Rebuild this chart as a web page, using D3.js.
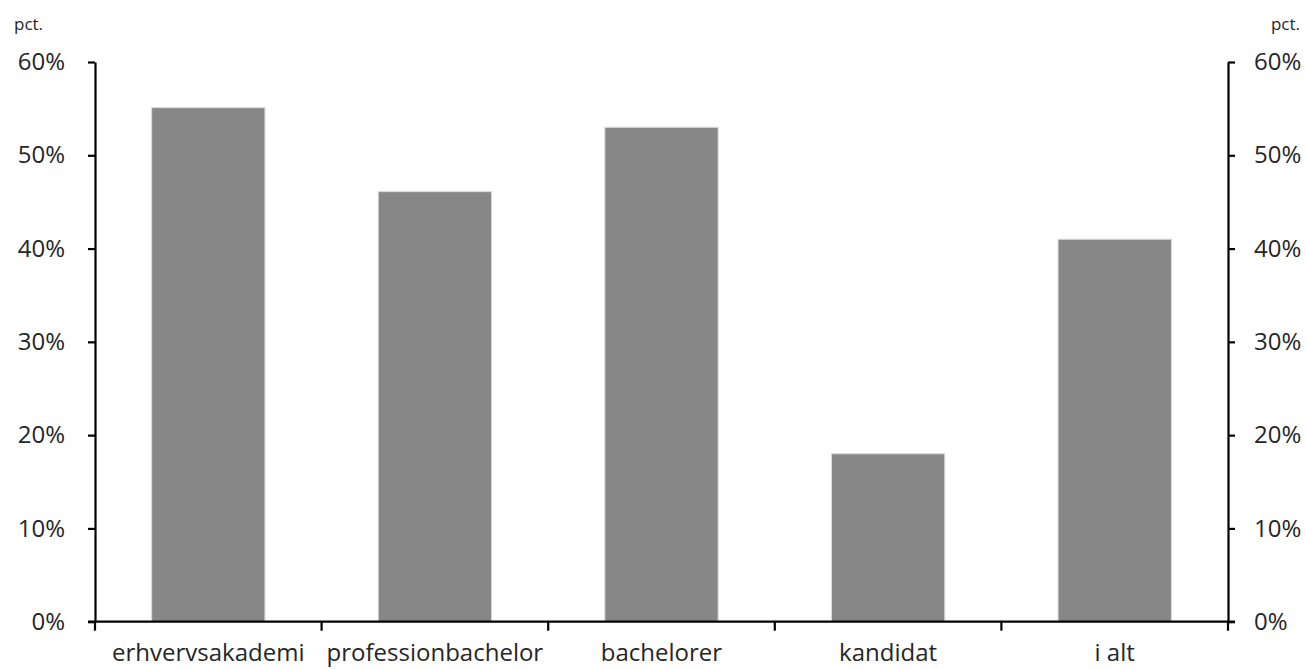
<!DOCTYPE html>
<html><head><meta charset="utf-8">
<script src="https://cdn.jsdelivr.net/npm/d3@7"></script>
<style>body{margin:0;background:#fff}svg{display:block}text{font-family:"Open Sans","Noto Sans",sans-serif;fill:#262626}</style>
</head><body><svg id="c" width="1306" height="669"></svg>
<script>
const categories = ["erhvervsakademi","professionbachelor","bachelorer","kandidat","i alt"];
const values = [55.1, 46.1, 53.0, 18.0, 41.0];
const yTicks = [0,10,20,30,40,50,60];
const unitLabel = "pct.";

const svg = d3.select("#c");
const m = {l:95, r:1306-1228, t:62, b:669-621.7};
const W = 1306, H = 669;
const x = d3.scaleBand().domain(categories).range([m.l, W-m.r]).paddingInner(0.5).paddingOuter(0.25);
const xb = d3.scaleBand().domain(categories).range([m.l, W-m.r]);
const y = d3.scaleLinear().domain([0,60]).range([H-m.b, m.t]);

svg.append("g").selectAll("rect").data(values).join("rect")
  .attr("x",(d,i)=>x(categories[i])).attr("width",x.bandwidth())
  .attr("y",d=>y(d)).attr("height",d=>y(0)-y(d))
  .attr("fill","#878787").attr("stroke","#d9d9d9").attr("stroke-width",1);

const fmt = d=>d+"%";
const gl = svg.append("g").attr("transform",`translate(${m.l},0)`)
  .call(d3.axisLeft(y).tickValues(yTicks).tickFormat(fmt).tickSize(7).tickPadding(23).tickSizeOuter(0));
const gr = svg.append("g").attr("transform",`translate(${W-m.r},0)`)
  .call(d3.axisRight(y).tickValues(yTicks).tickFormat(fmt).tickSize(7).tickPadding(19).tickSizeOuter(0));
[gl,gr].forEach(g=>{
  g.select(".domain").attr("stroke","#000").attr("stroke-width",2.2);
  g.selectAll(".tick line").attr("stroke","#000").attr("stroke-width",2.2);
  g.selectAll(".tick text").style("font-size","24px").attr("fill","#262626").style("font-family",'"Open Sans",sans-serif');
});

// bottom axis with ticks at category boundaries
const gb = svg.append("g").attr("transform",`translate(0,${y(0)})`);
gb.append("line").attr("x1",m.l-7).attr("x2",W-m.r+7).attr("stroke","#000").attr("stroke-width",2.2);
const bounds = categories.map(c=>xb(c)).concat([xb(categories[categories.length-1])+xb.bandwidth()]);
gb.selectAll("line.t").data(bounds).join("line").attr("class","t")
  .attr("x1",d=>d).attr("x2",d=>d).attr("y1",0).attr("y2",9).attr("stroke","#000").attr("stroke-width",2.2);
gb.selectAll("text").data(categories).join("text")
  .attr("x",d=>xb(d)+xb.bandwidth()/2).attr("y",39.5).attr("text-anchor","middle")
  .style("font-size","24px").text(d=>d);

svg.append("text").attr("x",14).attr("y",30).style("font-size","17px").text(unitLabel);
svg.append("text").attr("x",1300).attr("y",30).attr("text-anchor","end").style("font-size","17px").text(unitLabel);
</script></body></html>
